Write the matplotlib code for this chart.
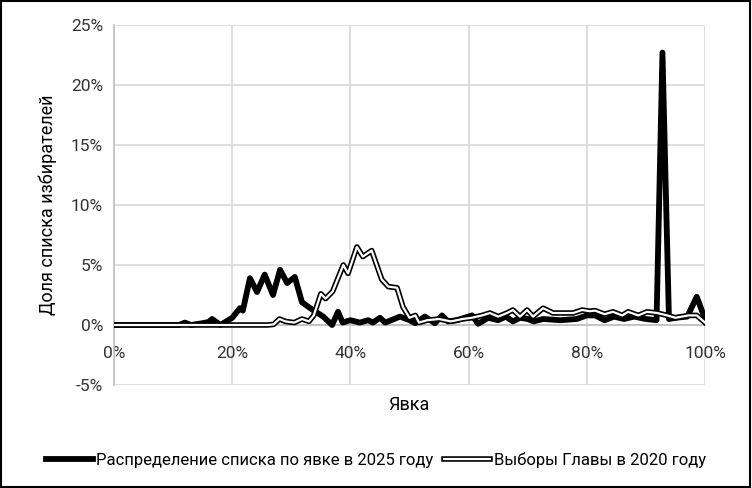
import matplotlib.pyplot as plt
from matplotlib.lines import Line2D
from matplotlib.patches import Rectangle
from matplotlib.ticker import FuncFormatter

plt.rcParams['font.family'] = ['Roboto', 'DejaVu Sans']

# turnout (%) and share of voter list (%) -- 2025
turnout_2025 = [0, 11, 12, 13, 15, 16, 16.6, 18, 20, 21.3, 21.8, 23, 24.2, 25.5, 26.9,
                28.1, 29.3, 30.6, 31.8, 33.2, 35.4, 36.9, 37.9, 38.7, 40, 41.6, 43, 43.8,
                45, 45.9, 48.4, 50, 51, 52.6, 54.3, 55.5, 56.5, 58, 60.6, 61.6, 63.3, 65,
                66.3, 67.5, 68.7, 70, 71, 72.6, 75.5, 78.3, 80, 81.4, 83, 84.6, 86.3, 88,
                90, 91.8, 92.8, 93.9, 95, 97, 98.6, 100]
share_2025 = [0, 0, 0.2, 0, 0.15, 0.25, 0.5, 0, 0.6, 1.4, 1.2, 3.9, 2.75, 4.2, 2.5,
              4.6, 3.5, 4.0, 1.9, 1.4, 0.7, 0, 1.1, 0.2, 0.4, 0.2, 0.4, 0.2,
              0.6, 0.2, 0.7, 0.4, 0.15, 0.7, 0.15, 0.8, 0.3, 0.4, 0.8, 0.1, 0.6, 0.4,
              0.7, 0.3, 0.6, 0.5, 0.3, 0.5, 0.4, 0.5, 0.8, 0.8, 0.4, 0.7, 0.5, 0.7,
              0.5, 0.4, 22.7, 0.5, 0.6, 0.7, 2.35, 0.5]

# 2020 election of the Head
turnout_2020 = [0, 26, 27, 28, 29, 30.5, 31.8, 33, 33.8, 35, 35.8, 37, 38.8, 39.6, 41.1,
                42.1, 43.6, 45.3, 46.4, 47.9, 48.9, 50, 51, 51.6, 53, 55, 57, 59, 60.5,
                62.3, 63.6, 65, 66.5, 67.5, 68.7, 69.9, 70.9, 72.6, 74.3, 77.7, 79.2,
                80.5, 81.4, 83, 84.4, 86, 87, 88.7, 90.2, 91.9, 93.6, 95, 97.2, 98.6, 100]
share_2020 = [0, 0, 0.05, 0.5, 0.3, 0.2, 0.5, 0.3, 0.8, 2.6, 2.2, 2.8, 5.0, 4.3, 6.5,
              5.7, 6.2, 3.8, 3.2, 3.1, 1.5, 0.6, 0.8, 0.2, 0.4, 0.5, 0.3, 0.5, 0.6,
              0.8, 1.0, 0.7, 1.0, 1.25, 0.7, 1.25, 0.7, 1.4, 1.0, 1.0, 1.25,
              1.15, 1.2, 0.9, 1.1, 0.8, 1.1, 0.8, 1.1, 1.0, 0.8, 0.6, 0.8, 0.8, 0.2]

label_2025 = 'Распределение списка по явке в 2025 году'
label_2020 = 'Выборы Главы в 2020 году'

fig = plt.figure(figsize=(7.52, 4.88), dpi=100)
ax = fig.add_axes([114 / 752, 1 - 385 / 488, (705 - 114) / 752, 360 / 488])

ax.plot(turnout_2025, share_2025, color='black', lw=4.2, solid_joinstyle='round',
        solid_capstyle='round', zorder=3)
ax.plot(turnout_2020, share_2020, color='black', lw=4.0, solid_joinstyle='round', zorder=4)
ax.plot(turnout_2020, share_2020, color='white', lw=1.6, solid_joinstyle='round', zorder=5)

ax.set_xlim(0, 100)
ax.set_ylim(-5, 25)
ax.set_xticks(range(0, 101, 20))
ax.set_yticks(range(-5, 26, 5))
pct = FuncFormatter(lambda v, p: f'{v:.0f}%')
ax.xaxis.set_major_formatter(pct)
ax.yaxis.set_major_formatter(pct)
ax.grid(True, color='#d9d9d9', lw=1.2)
ax.set_axisbelow(True)
for s in ['top', 'right']:
    ax.spines[s].set_visible(False)
ax.spines['bottom'].set_position(('data', 0))
ax.spines['bottom'].set_color('#bfbfbf')
ax.spines['left'].set_color('#bfbfbf')
ax.spines['bottom'].set_linewidth(1.2)
ax.spines['left'].set_linewidth(1.2)
ax.tick_params(axis='x', length=0, pad=15, labelsize=12.5, colors='#333333')
ax.tick_params(axis='y', length=0, pad=8, labelsize=12.5, colors='#333333')

ax.set_ylabel('Доля списка избирателей', fontsize=13, labelpad=10)
fig.text(409 / 752, 1 - 405 / 488, 'Явка', ha='center', va='center', fontsize=13)

h1 = Line2D([], [], color='black', lw=4.2)
h2 = (Line2D([], [], color='black', lw=4.0), Line2D([], [], color='white', lw=1.6))
fig.legend([h1, h2], [label_2025, label_2020], loc='center', ncol=2,
           bbox_to_anchor=(0.5, 1 - 460 / 488), frameon=False, fontsize=12,
           handlelength=2.8, handletextpad=0.2, columnspacing=0.6)

fig.add_artist(Rectangle((0.001, 0.002), 0.997, 0.996, transform=fig.transFigure,
                         fill=False, edgecolor='black', lw=1.5))

fig.savefig('out.png', dpi=100)
